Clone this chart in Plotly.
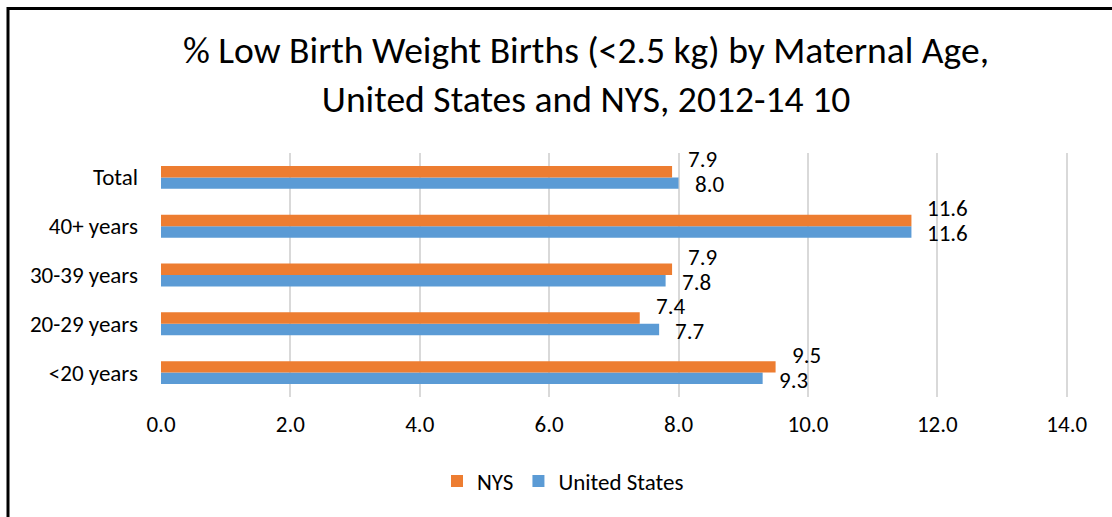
import plotly.graph_objects as go

categories = ["<20 years", "20-29 years", "30-39 years", "40+ years", "Total"]
nys = [9.5, 7.4, 7.9, 11.6, 7.9]
us = [9.3, 7.7, 7.8, 11.6, 8.0]
x_ticks = [0, 2, 4, 6, 8, 10, 12, 14]

FONT = "Calibri, Carlito, Lato, sans-serif"
ORANGE = "#ED7D31"
BLUE = "#5B9BD5"

W, H = 1112, 517
L, R, T, B = 161, 44, 152.5, 120.3
pw, ph = W - L - R, H - T - B

def px_x(p):
    return (p - L) / pw

def px_y(p):
    return (H - B - p) / ph

fig = go.Figure()
fig.add_trace(go.Bar(y=categories, x=us, name="United States", orientation="h",
                     marker=dict(color=BLUE, line=dict(width=0)), legendrank=2,
                     hoverinfo="x+y"))
fig.add_trace(go.Bar(y=categories, x=nys, name="NYS", orientation="h",
                     marker=dict(color=ORANGE, line=dict(width=0)), legendrank=1,
                     hoverinfo="x+y"))

annotations = []
for c, v in zip(categories, nys):
    annotations.append(dict(x=v, y=c, xref="x", yref="y", text=f"{v:.1f}", showarrow=False,
                            xanchor="left", yanchor="middle", xshift=14, yshift=18,
                            font=dict(family=FONT, size=23, color="#000000")))
for c, v in zip(categories, us):
    annotations.append(dict(x=v, y=c, xref="x", yref="y", text=f"{v:.1f}", showarrow=False,
                            xanchor="left", yanchor="middle", xshift=14, yshift=-7,
                            font=dict(family=FONT, size=23, color="#000000")))

fig.update_layout(
    width=W, height=H,
    margin=dict(l=L, r=R, t=T, b=B, pad=0, autoexpand=False),
    paper_bgcolor="white", plot_bgcolor="white",
    barmode="group", bargap=0.53, bargroupgap=0,
    title=dict(text="% Low Birth Weight Births (<2.5 kg) by Maternal Age,<br>United States and NYS, 2012-14 10",
               x=586 / W, xanchor="center", xref="container",
               y=1 - 63 / H, yanchor="top", yref="container",
               font=dict(family=FONT, size=37.6, color="#000000")),
    xaxis=dict(range=[0, 14.02], tickvals=x_ticks, ticktext=[f"{t:.1f}" for t in x_ticks],
               showgrid=True, gridcolor="#D9D9D9", gridwidth=2,
               zeroline=False, showline=False, ticks="",
               ticklabelstandoff=11, automargin=False,
               tickfont=dict(family=FONT, size=23, color="#000000")),
    yaxis=dict(type="category", range=[-0.5, 4.5], autorange=False,
               showgrid=False, zeroline=False, showline=False, ticks="",
               ticklabelstandoff=22, automargin=False,
               tickfont=dict(family=FONT, size=23, color="#000000")),
    legend=dict(orientation="h", x=563 / W, xanchor="center", xref="container",
                y=1 - 481 / H, yanchor="middle", yref="container",
                font=dict(family=FONT, size=23, color="#000000"),
                itemwidth=30, bgcolor="rgba(0,0,0,0)"),
    showlegend=True,
    annotations=annotations,
    shapes=[dict(type="rect", xref="paper", yref="paper",
                 x0=px_x(8), y0=px_y(8), x1=px_x(1140), y1=px_y(560),
                 line=dict(color="#000000", width=3), fillcolor="rgba(0,0,0,0)",
                 layer="above")],
)

fig.write_html("out.html", config={"displayModeBar": False},
               post_script="document.body.style.margin='0';document.body.style.overflow='hidden';")
